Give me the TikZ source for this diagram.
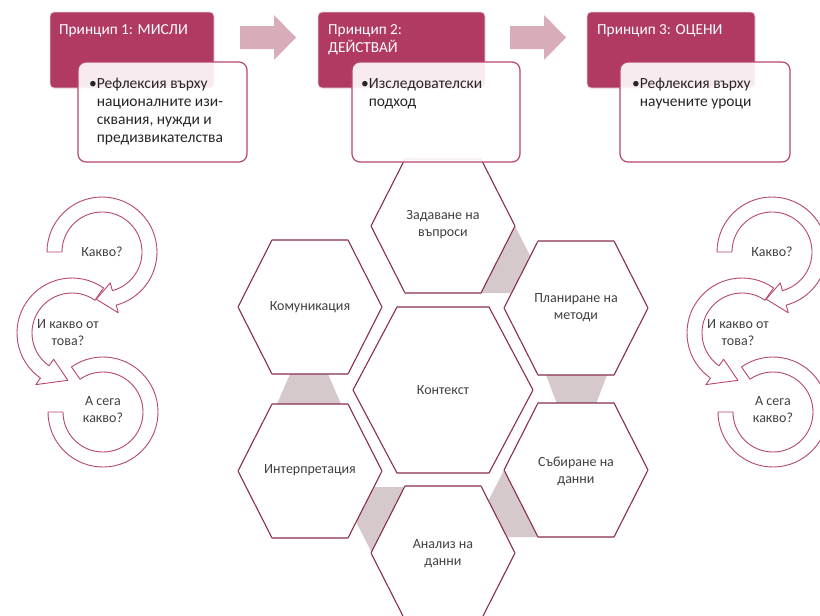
\documentclass[tikz,border=0pt]{standalone}
\usepackage{fontspec}
\setmainfont{Carlito}

\definecolor{plum}{RGB}{176,58,98}
\definecolor{plumrim}{RGB}{228,212,218}
\definecolor{plumline}{RGB}{184,70,108}
\definecolor{hexedge}{RGB}{136,46,76}
\definecolor{pinkarrow}{RGB}{216,172,184}
\definecolor{gapgrey}{RGB}{214,201,204}
\definecolor{inkgrey}{RGB}{64,64,64}

\begin{document}
\begin{tikzpicture}[x=1pt,y=-1pt,
  every node/.style={font=\fontsize{14}{17}\selectfont,inner sep=0pt},
  headtext/.style={text=white,anchor=base west,font=\fontsize{15.3}{18}\selectfont},
  notetext/.style={text=black!85,anchor=base west,font=\fontsize{15.5}{18.3}\selectfont},
  titlebox/.style={fill=plum,draw=plumrim,line width=0.8pt,rounded corners=4pt},
  notebox/.style={fill=white,fill opacity=0.9,draw=plumline,line width=1.2pt,rounded corners=8pt},
  flowarrow/.style={fill=pinkarrow,draw=none},
  gapfill/.style={fill=gapgrey,draw=none},
  hexline/.style={fill=white,draw=hexedge,line width=1.1pt,line join=round},
  hextext/.style={text=inkgrey,align=center},
  cycarrow/.style={fill=white,draw=plumline,line width=0.9pt,line join=round},
  cyctext/.style={text=inkgrey,align=center}]

  \useasboundingbox (0,0) rectangle (820,616);
  \clip (0,0) rectangle (820,616);

  % grey links behind the cells
  \fill[gapfill] (515,226) -- (481,293) -- (549,293) -- cycle;
  \fill[gapfill] (546,375) -- (607,375) -- (596,404) -- (557,404) -- cycle;
  \fill[gapfill] (504,470) -- (470,537) -- (538,537) -- cycle;
  \fill[gapfill] (338,487) -- (405,487) -- (372,553) -- cycle;
  \fill[gapfill] (290,374) -- (328,374) -- (341,404) -- (277,404) -- cycle;

  % hexagon cells
  \foreach \cx/\cy in {443/226,576/308,576/470,443/553,310/471,310/307}
    \draw[hexline,shift={(\cx,\cy)}] (-72,0) -- (-38,-67) -- (38,-67) -- (72,0) -- (38,67) -- (-38,67) -- cycle;
  \draw[hexline,shift={(443,390)}] (-90,0) -- (-46,-83) -- (46,-83) -- (90,0) -- (46,83) -- (-46,83) -- cycle;

  \node[hextext] (zadavane) at (443,225) {Задаване на\\въпроси};
  \node[hextext] (planirane) at (576,308) {Планиране на\\методи};
  \node[hextext] (sabirane) at (576,471) {Събиране на\\данни};
  \node[hextext] (analiz) at (443,554) {Анализ на\\данни};
  \node[hextext] (interpret) at (310,470) {Интерпретация};
  \node[hextext] (komunik) at (310,307) {Комуникация};
  \node[hextext] (kontekst) at (443,390) {Контекст};

  % principles
  \draw[titlebox] (50,12) rectangle (214,88);
  \draw[titlebox] (318,12) rectangle (485,88);
  \draw[titlebox] (587,12) rectangle (755,88);
  \foreach \ax in {240,510}
    \fill[flowarrow] (\ax,26) -- (\ax+34,26) -- (\ax+34,15) -- (\ax+56,37.5) -- (\ax+34,60) -- (\ax+34,49) -- (\ax,49) -- cycle;
  \node[headtext] (head1) at (59,34.5) {Принцип 1: МИСЛИ};
  \node[headtext] (head2) at (328,34.5) {\begin{tabular}[t]{@{}l@{}}Принцип 2:\\ДЕЙСТВАЙ\end{tabular}};
  \node[headtext] (head3) at (597,34.5) {Принцип 3: ОЦЕНИ};

  \draw[notebox] (78,62) rectangle (247,162);
  \draw[notebox] (352,62) rectangle (520,162);
  \draw[notebox] (620,62) rectangle (790,162);
  \node[notetext] (note1) at (89,88) {•\begin{tabular}[t]{@{}l@{}}Рефлексия върху\\националните изи-\\сквания, нужди и\\предизвикателства\end{tabular}};
  \node[notetext] (note2) at (361,88) {•\begin{tabular}[t]{@{}l@{}}Изследователски\\подход\end{tabular}};
  \node[notetext] (note3) at (632,88) {•\begin{tabular}[t]{@{}l@{}}Рефлексия върху\\научените уроци\end{tabular}};

  % question loops, left and right
  \foreach \dx/\side in {0/l,670/r} {
    \draw[cycarrow,shift={(\dx+103,412)}] (235:55) arc[start angle=235,end angle=540,radius=55] -- (540:40) arc[start angle=540,end angle=235,radius=40] -- cycle;
    \draw[cycarrow,shift={(\dx+72,333)}] (-55:55) arc[start angle=-55,end angle=-235,radius=55] -- (-235:63) -- (-265:47.5) -- (-235:32) -- (-235:40) arc[start angle=-235,end angle=-55,radius=40] -- cycle;
    \draw[cycarrow,shift={(\dx+102,252)}] (180:55) arc[start angle=180,end angle=435,radius=55] -- (435:63) -- (457:47.5) -- (435:32) -- (435:40) arc[start angle=435,end angle=180,radius=40] -- cycle;
    \node[cyctext] (what\side) at (\dx+102,252) {Какво?};
    \node[cyctext] (sowhat\side) at (\dx+68,333) {И какво от\\това?};
    \node[cyctext] (nowwhat\side) at (\dx+103,410) {А сега\\какво?};
  }
\end{tikzpicture}
\end{document}
